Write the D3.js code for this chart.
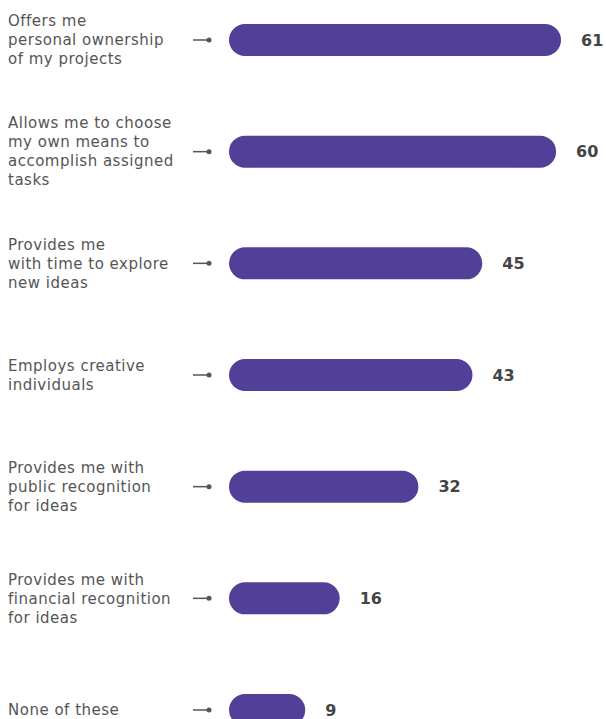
<!DOCTYPE html>
<html>
<head>
<meta charset="utf-8">
<script src="https://cdn.jsdelivr.net/npm/d3@7"></script>
<style>
  html, body { margin: 0; padding: 0; background: #fff; }
  svg { display: block; }
</style>
</head>
<body>
<div id="chart"></div>
<script>
const categories = [
  "Offers me\npersonal ownership\nof my projects",
  "Allows me to choose\nmy own means to\naccomplish assigned\ntasks",
  "Provides me\nwith time to explore\nnew ideas",
  "Employs creative\nindividuals",
  "Provides me with\npublic recognition\nfor ideas",
  "Provides me with\nfinancial recognition\nfor ideas",
  "None of these"
];
const values = [61, 60, 45, 43, 32, 16, 9];

const W = 606, H = 719;
const svg = d3.select("#chart").append("svg").attr("width", W).attr("height", H);

const y = d3.scalePoint().domain(categories).range([40, 710]);
const x = d3.scaleLinear().domain([0, 61]).range([245, 545]);
const barH = 32;
const color = "#523f97";
const font = "Verdana, 'DejaVu Sans', sans-serif";

const rows = svg.selectAll("g.row").data(categories.map((c, i) => ({ c, v: values[i] })))
  .enter().append("g").attr("class", "row")
  .attr("transform", d => `translate(0,${y(d.c)})`);

// labels
rows.each(function(d) {
  const lines = d.c.split("\n");
  const lh = 19;
  const t = d3.select(this).append("text")
    .attr("x", 8)
    .attr("font-family", font)
    .attr("font-size", 15)
    .attr("letter-spacing", 0.5)
    .attr("fill", "#555");
  lines.forEach((l, i) => {
    t.append("tspan").attr("x", 8)
      .attr("y", (i - (lines.length - 1) / 2) * lh)
      .attr("dy", "0.35em")
      .text(l);
  });
});

// connector
rows.append("line")
  .attr("x1", 193).attr("x2", 208).attr("y1", 0).attr("y2", 0)
  .attr("stroke", "#555").attr("stroke-width", 1.5);
rows.append("circle").attr("cx", 209).attr("cy", 0).attr("r", 2.5).attr("fill", "#555");

// bars (round caps)
rows.append("line")
  .attr("x1", x(0)).attr("x2", d => x(d.v))
  .attr("y1", 0).attr("y2", 0)
  .attr("stroke", color).attr("stroke-width", barH).attr("stroke-linecap", "round");

// values
rows.append("text")
  .attr("x", d => x(d.v) + barH / 2 + 20)
  .attr("dy", "0.35em")
  .attr("font-family", font)
  .attr("font-size", 16)
  .attr("font-weight", "bold")
  .attr("fill", "#444")
  .text(d => d.v);
</script>
</body>
</html>
